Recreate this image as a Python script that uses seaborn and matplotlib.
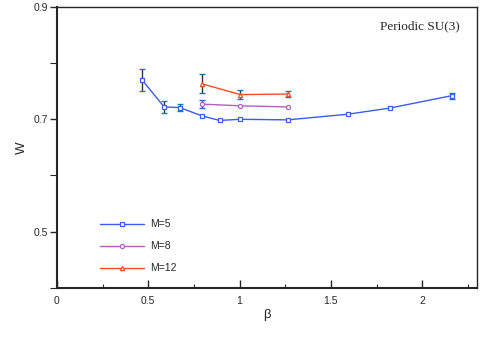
import matplotlib
matplotlib.use("Agg")
import matplotlib.pyplot as plt
import numpy as np
import pandas as pd
import seaborn as sns

sns.set_style("ticks")
plt.rcParams['font.family'] = ['Liberation Sans', 'DejaVu Sans']

# data
beta_m5 = [0.466, 0.587, 0.671, 0.795, 0.890, 1.004, 1.263, 1.592, 1.823, 2.161]
w_m5 = [0.770, 0.722, 0.721, 0.706, 0.698, 0.700, 0.699, 0.709, 0.720, 0.742]
err_m5 = [0.019, 0.010, 0.006, 0.0, 0.0, 0.0, 0.0, 0.0, 0.0, 0.005]

beta_m8 = [0.795, 1.004, 1.263]
w_m8 = [0.727, 0.724, 0.722]
err_m8 = [0.0075, 0.0, 0.0]

beta_m12 = [0.795, 1.004, 1.263]
w_m12 = [0.763, 0.744, 0.745]
err_m12 = [0.017, 0.008, 0.005]

labels = ["M=5", "M=8", "M=12"]
colors = ["#3a5cf0", "#b060c0", "#ff4a2a"]
markers = ["s", "o", "^"]

df = pd.concat([
    pd.DataFrame({"beta": beta_m5, "W": w_m5, "err": err_m5, "M": labels[0]}),
    pd.DataFrame({"beta": beta_m8, "W": w_m8, "err": err_m8, "M": labels[1]}),
    pd.DataFrame({"beta": beta_m12, "W": w_m12, "err": err_m12, "M": labels[2]}),
], ignore_index=True)

fig = plt.figure(figsize=(4.85, 3.46), dpi=100)
ax = fig.add_axes([0.1175, 0.168, 0.866, 0.812])

# error bars first, so the lines sit on top
for lab in labels:
    sub = df[(df["M"] == lab) & (df["err"] > 0)]
    ax.errorbar(sub["beta"], sub["W"], yerr=sub["err"], fmt="none",
                ecolor="#333333", elinewidth=1.0, capsize=2, capthick=1.0, zorder=2)

sns.lineplot(data=df, x="beta", y="W", hue="M", style="M",
             hue_order=labels, style_order=labels,
             palette=dict(zip(labels, colors)), markers=dict(zip(labels, markers)),
             dashes=False, markersize=3, markerfacecolor="white",
             markeredgewidth=0.9, linewidth=1.0, ax=ax, zorder=3)
for line in ax.get_lines():
    line.set_markeredgecolor(line.get_color())

ax.set_xlim(0, 2.3)
ax.set_ylim(0.4, 0.9)
ax.set_xticks([0, 0.5, 1, 1.5, 2])
ax.set_xticklabels(["0", "0.5", "1", "1.5", "2"])
ax.set_xticks([0.25, 0.75, 1.25, 1.75, 2.25], minor=True)
ax.set_yticks([0.5, 0.7, 0.9])
ax.set_yticklabels(["0.5", "0.7", "0.9"])
ax.set_yticks([0.4, 0.6, 0.8], minor=True)
ax.tick_params(axis="x", which="major", direction="in", length=6, width=1.0, labelsize=7.5, pad=6)
ax.tick_params(axis="x", which="minor", direction="in", length=3, width=0.8)
ax.tick_params(axis="y", which="major", direction="out", length=5, width=1.0, labelsize=7.5, pad=1.5)
ax.tick_params(axis="y", which="minor", direction="out", length=5, width=0.8)
for side in ["left", "bottom"]:
    ax.spines[side].set_linewidth(1.5)
for side in ["top", "right"]:
    ax.spines[side].set_linewidth(1.0)

ax.set_xlabel("β", fontsize=9.5, labelpad=2)
ax.set_ylabel("W", fontsize=9.5, labelpad=4)

ax.text(0.96, 0.93, "Periodic SU(3)", transform=ax.transAxes, ha="right", va="center",
        fontsize=9.5, family="Liberation Serif")

ax.legend(loc="lower left", bbox_to_anchor=(0.08, 0.018), frameon=False,
          handlelength=4.2, labelspacing=1.15, fontsize=7.5, handletextpad=0.6)

fig.savefig("out.png", dpi=100)
